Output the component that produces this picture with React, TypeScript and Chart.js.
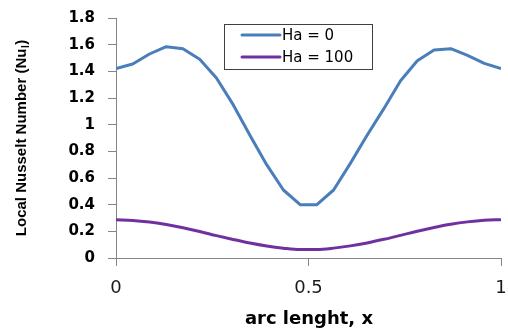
import React, { useEffect, useRef } from "react";
import { Chart, registerables } from "chart.js";

Chart.register(...registerables);

const arcLength = [
  0, 0.0435, 0.087, 0.1304, 0.1739, 0.2174, 0.2609, 0.3043, 0.3478, 0.3913, 0.4348, 0.4783,
  0.5217, 0.5652, 0.6087, 0.6522, 0.6957, 0.7391, 0.7826, 0.8261, 0.8696, 0.913, 0.9565, 1,
];
const nuHa0 = [
  1.42, 1.455, 1.53, 1.585, 1.57, 1.49, 1.35, 1.15, 0.92, 0.7, 0.51, 0.4,
  0.4, 0.51, 0.71, 0.92, 1.12, 1.33, 1.48, 1.56, 1.57, 1.52, 1.46, 1.42,
];
const nuHa100 = [
  0.286, 0.282, 0.27, 0.251, 0.227, 0.199, 0.168, 0.139, 0.112, 0.09, 0.074, 0.064,
  0.064, 0.074, 0.091, 0.113, 0.14, 0.17, 0.201, 0.229, 0.253, 0.271, 0.283, 0.287,
];
const seriesLabels = ["Ha = 0", "Ha = 100"];
const xTickValues = [0, 0.5, 1];
const xTickLabels = ["0", "0.5", "1"];
const yTickValues = [0, 0.2, 0.4, 0.6, 0.8, 1, 1.2, 1.4, 1.6, 1.8];
const xTitle = "arc lenght, x";
const yTitleMain = "Local Nusselt Number (Nu";
const yTitleSub = "l";
const yTitleEnd = ")";

const BLUE = "#4A7EBB";
const PURPLE = "#7030A0";
const AXIS = "#868686";

const xTickPlugin = {
  id: "xTickText",
  afterDraw(chart: any) {
    const ctx = chart.ctx;
    const area = chart.chartArea;
    const sx = chart.scales.x;
    xTickValues.forEach((v, i) => {
      ctx.save();
      ctx.fillStyle = "#1a1a1a";
      ctx.font = "18px 'DejaVu Sans'";
      ctx.textAlign = "center";
      ctx.textBaseline = "middle";
      ctx.fillText(xTickLabels[i], sx.getPixelForValue(v), area.bottom + 30);
      ctx.restore();
    });
  },
};

const legendPlugin = {
  id: "boxLegend",
  afterDraw(chart: any) {
    const ctx = chart.ctx;
    const x0 = 224.5, y0 = 24.5, w = 148, h = 45;
    ctx.save();
    ctx.fillStyle = "#ffffff";
    ctx.fillRect(x0, y0, w, h);
    ctx.strokeStyle = "#404040";
    ctx.lineWidth = 1;
    ctx.strokeRect(x0, y0, w, h);
    const rows = [35, 57];
    chart.data.datasets.forEach((ds: any, i: number) => {
      const y = rows[i];
      ctx.strokeStyle = ds.borderColor;
      ctx.lineWidth = 3;
      ctx.lineCap = "round";
      ctx.beginPath();
      ctx.moveTo(242, y);
      ctx.lineTo(280, y);
      ctx.stroke();
      ctx.fillStyle = "#000000";
      ctx.font = "15px 'DejaVu Sans'";
      ctx.textBaseline = "middle";
      ctx.textAlign = "left";
      ctx.fillText(ds.label, 282, y + 1);
    });
    ctx.restore();
  },
};

const titlePlugin = {
  id: "axisTitles",
  afterDraw(chart: any) {
    const ctx = chart.ctx;
    const area = chart.chartArea;
    ctx.save();
    ctx.fillStyle = "#000000";
    ctx.textAlign = "center";
    ctx.textBaseline = "middle";
    ctx.font = "bold 18px 'DejaVu Sans'";
    ctx.fillText(xTitle, (area.left + area.right) / 2 + 0.5, area.bottom + 61);
    const mainFont = "bold 15px 'Liberation Sans'";
    const subFont = "bold 10px 'Liberation Sans'";
    ctx.translate(22, (area.top + area.bottom) / 2);
    ctx.rotate(-Math.PI / 2);
    ctx.textAlign = "left";
    ctx.font = mainFont;
    const w1 = ctx.measureText(yTitleMain).width;
    const w3 = ctx.measureText(yTitleEnd).width;
    ctx.font = subFont;
    const w2 = ctx.measureText(yTitleSub).width + 1;
    let x = -(w1 + w2 + w3) / 2;
    ctx.font = mainFont;
    ctx.fillText(yTitleMain, x, 0);
    x += w1;
    ctx.font = subFont;
    ctx.fillText(yTitleSub, x + 0.5, 4);
    x += w2;
    ctx.font = mainFont;
    ctx.fillText(yTitleEnd, x, 0);
    ctx.restore();
  },
};

export default function App() {
  const ref = useRef<HTMLCanvasElement>(null);
  useEffect(() => {
    if (!ref.current) return;
    const chart = new Chart(ref.current, {
      type: "line",
      data: {
        datasets: [
          {
            label: seriesLabels[0],
            data: arcLength.map((x, i) => ({ x, y: nuHa0[i] })),
            borderColor: BLUE,
            borderWidth: 3,
            pointRadius: 0,
            tension: 0,
            borderJoinStyle: "round",
          },
          {
            label: seriesLabels[1],
            data: arcLength.map((x, i) => ({ x, y: nuHa100[i] })),
            borderColor: PURPLE,
            borderWidth: 3,
            pointRadius: 0,
            cubicInterpolationMode: "monotone",
          },
        ],
      },
      options: {
        animation: false,
        responsive: false,
        layout: { padding: { top: 18, right: 7, left: 0, bottom: 0 } },
        plugins: { legend: { display: false }, tooltip: { enabled: false } },
        scales: {
          x: {
            type: "linear",
            min: xTickValues[0],
            max: xTickValues[xTickValues.length - 1],
            afterBuildTicks: (s: any) => {
              s.ticks = xTickValues.map((v) => ({ value: v }));
            },
            afterFit: (s: any) => {
              s.height = 73;
              s.paddingLeft = 0;
              s.paddingRight = 0;
            },
            ticks: { display: false, autoSkip: false },
            grid: { drawOnChartArea: false, drawTicks: true, tickLength: 8, color: AXIS },
            border: { color: AXIS, width: 1 },
            title: { display: false },
          },
          y: {
            min: 0,
            max: 1.8,
            afterBuildTicks: (s: any) => {
              s.ticks = yTickValues.map((v) => ({ value: v }));
            },
            afterFit: (s: any) => {
              s.width = 116;
              s.paddingTop = 0;
              s.paddingBottom = 0;
            },
            ticks: {
              autoSkip: false,
              padding: 13,
              color: "#000000",
              font: { family: "'DejaVu Sans'", size: 15, weight: "bold" },
              callback: (v: any) => String(Math.round(v * 10) / 10),
            },
            grid: { drawOnChartArea: false, tickLength: 8, color: AXIS },
            border: { color: AXIS, width: 1 },
            title: { display: false },
          },
        },
      },
      plugins: [xTickPlugin, legendPlugin, titlePlugin],
    });
    return () => chart.destroy();
  }, []);
  return (
    <div style={{ position: "fixed", left: 0, top: 0, width: 508, height: 331, background: "#fff" }}>
      <canvas ref={ref} width={508} height={331} />
    </div>
  );
}
